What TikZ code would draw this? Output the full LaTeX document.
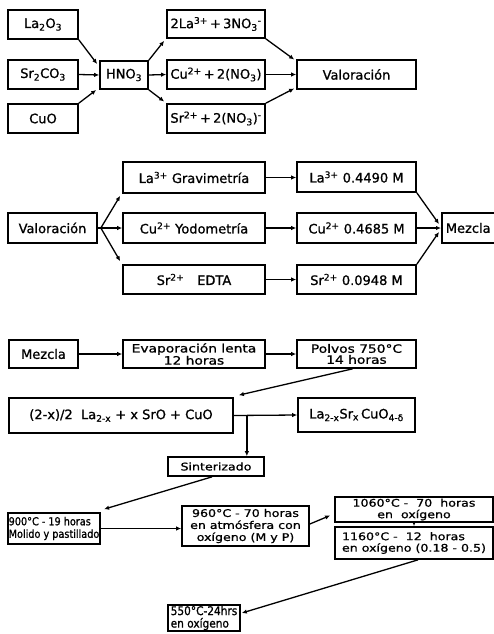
\documentclass[tikz,border=0pt]{standalone}
\usepackage{fontspec}
\setmainfont[FakeBold=1]{DejaVu Sans}
\newfontfamily\wf[FakeStretch=1.2,FakeBold=1]{DejaVu Sans}
\newfontfamily\cf[FakeStretch=0.88,FakeBold=1]{DejaVu Sans}
\usetikzlibrary{calc,arrows.meta}
\newcommand\sps[1]{\textsuperscript{#1}}
\newcommand\sbs[1]{\textsubscript{#1}}
\begin{document}
\begin{tikzpicture}[x=1pt,y=-1pt,
  bx/.style={draw,line width=1.7pt,inner sep=1pt,align=center,font=\fontsize{13}{14}\selectfont},
  sm/.style={inner sep=0pt,font=\wf\fontsize{10.5}{11.5}\selectfont},
  nr/.style={inner sep=1pt,font=\cf\fontsize{11}{12.5}\selectfont},
  arr/.style={line width=1.3pt,-{Latex[length=5pt,width=4.5pt]}},
  ln/.style={line width=1.3pt}]
\useasboundingbox (0,0) rectangle (494,634);
% Row 1
\node[bx,minimum width=70,minimum height=29] (la2o3) at (43,24.5) {La\sbs{2}O\sbs{3}};
\node[bx,minimum width=70,minimum height=29] (sr2co3) at (43,74.5) {Sr\sbs{2}CO\sbs{3}};
\node[bx,minimum width=70,minimum height=29] (cuo) at (43,118.5) {CuO};
\node[bx,minimum width=48,minimum height=28] (hno3) at (124,75) {HNO\sbs{3}};
\node[bx,minimum width=98,minimum height=28] (lano3) at (216,24) {2La\sps{3+}\,+\,3NO\sbs{3}\sps{-}};
\node[bx,minimum width=98,minimum height=29] (cuno3) at (216,74.5) {Cu\sps{2+}\,+\,2(NO\sbs{3})};
\node[bx,minimum width=98,minimum height=29] (srno3) at (216,118.5) {Sr\sps{2+}\,+\,2(NO\sbs{3})\sps{-}};
\node[bx,minimum width=119,minimum height=29] (val1) at (356.5,74.5) {Valoración};
\draw[arr] (la2o3.south east) -- ($(hno3.west)+(-2,-11)$);
\draw[arr] (sr2co3.east) -- (hno3.west);
\draw[arr] (cuo.north east) -- ($(hno3.west)+(-3,15)$);
\draw[arr] (hno3.north east) -- ($(lano3.south west)+(-2,2)$);
\draw[arr] (hno3.east) -- (cuno3.west);
\draw[arr] (hno3.south east) -- ($(srno3.west)+(-2,-17)$);
\draw[arr] (lano3.south east) -- ($(val1.west)+(-2,-15)$);
\draw[arr] (cuno3.east) -- (val1.west);
\draw[arr] (srno3.north east) -- ($(val1.west)+(-2,14)$);
% Row 2
\node[bx,minimum width=89,minimum height=30] (val2) at (52.5,228) {Valoración};
\node[bx,minimum width=142,minimum height=31] (grav) at (194,177.5) {La\sps{3+} Gravimetría};
\node[bx,minimum width=142,minimum height=30] (yodo) at (194,228) {Cu\sps{2+} Yodometría};
\node[bx,minimum width=142,minimum height=29] (edta) at (194,279.5) {Sr\sps{2+}\quad EDTA};
\node[bx,minimum width=119,minimum height=30] (la449) at (356.5,177) {La\sps{3+} 0.4490 M};
\node[bx,minimum width=119,minimum height=30] (cu4685) at (356.5,228) {Cu\sps{2+} 0.4685 M};
\node[bx,minimum width=119,minimum height=29] (sr0948) at (356.5,279.5) {Sr\sps{2+} 0.0948 M};
\node[bx,minimum height=30,anchor=west,inner xsep=4pt,align=left,text width=56] (mez1) at (441,228) {Mezcla};
\coordinate (vs) at ($(val2.east)+(3,0)$);
\draw[ln] (val2.east) -- (vs);
\draw[arr] (vs) -- ($(grav.south west)+(-2,2)$);
\draw[arr] (vs) -- (yodo.west);
\draw[arr] (vs) -- ($(edta.north west)+(-2,-3)$);
\draw[arr] (grav.east) -- (grav.east -| la449.west);
\draw[arr] (yodo.east) -- (cu4685.west);
\draw[arr] (edta.east) -- (sr0948.west);
\draw[arr] (la449.south east) -- ($(mez1.west)+(-2,-4)$);
\draw[arr] (cu4685.east) -- (mez1.west);
\draw[arr] (sr0948.north east) -- ($(mez1.west)+(-2,4)$);
% Row 3
\node[bx,minimum width=69,minimum height=28] (mez2) at (43.5,354) {Mezcla};
\node[bx,sm,minimum width=142,minimum height=28,font=\wf\fontsize{11.5}{11}\selectfont] (evap) at (194,354) {Evaporación lenta\\12 horas};
\node[bx,sm,minimum width=119,minimum height=28,font=\wf\fontsize{11.5}{11}\selectfont] (polvos) at (356.5,354) {Polvos 750°C\\14 horas};
\node[bx,minimum width=224,minimum height=35] (mix) at (121,415.5) {(2-x)/2\ \ La\sbs{2-x}\ +\ x SrO\ +\ CuO};
\node[bx,minimum width=117,minimum height=34] (lasr) at (356.5,415) {La\sbs{2-x}Sr\sbs{x}\,CuO\sbs{4-δ}};
\draw[arr] (mez2.east) -- (evap.west);
\draw[arr] (evap.east) -- (polvos.west);
\draw[arr] ($(polvos.south)+(-4,0)$) -- ($(mix.north east)+(5,-2)$);
\draw[arr] (mix.east) -- (lasr.west);
% Row 4
\node[bx,sm,minimum width=96,minimum height=19] (sint) at (216,466.5) {Sinterizado};
\coordinate (br) at ($(mix.east)+(13,0)$);
\draw[arr] (br) -- (br |- sint.north);
\node[bx,nr,minimum width=92,minimum height=31,align=left] (t900) at (54,528.5) {900°C\ -\ 19 horas\\Molido y pastillado};
\node[bx,sm,minimum width=127,minimum height=40,font=\wf\fontsize{10.5}{12}\selectfont] (t960) at (245.5,526) {960°C\ -\ 70 horas\\en atmósfera con\\oxígeno (M y P)};
\node[bx,sm,minimum width=158,minimum height=25] (t1060) at (414,509.5) {1060°C\ -\ \ 70\ \ horas\\en\ \ oxígeno};
\node[bx,sm,minimum width=158,minimum height=32,align=left] (t1160) at (414,543) {1160°C\ -\ \ 12\ \ horas\\en oxígeno (0.18 - 0.5)};
\node[bx,nr,minimum width=72,minimum height=26,align=left,font=\cf\fontsize{12}{12.5}\selectfont] (t550) at (204,618) {550°C-24hrs\\en oxígeno};
\draw[arr] ($(sint.south)+(-4,0)$) -- ($(t900.north east)+(3,-3)$);
\draw[arr] (t900.east) -- (t900.east -| t960.west);
\draw[arr] ($(t960.east)+(0,-2)$) -- ($(t1060.west)+(-4,6)$);
\draw[arr] (t1060.south) -- (t1160.north);
\draw[arr] ($(t1160.south)+(4,0)$) -- ($(t550.east)+(1,-5)$);
\end{tikzpicture}
\end{document}
